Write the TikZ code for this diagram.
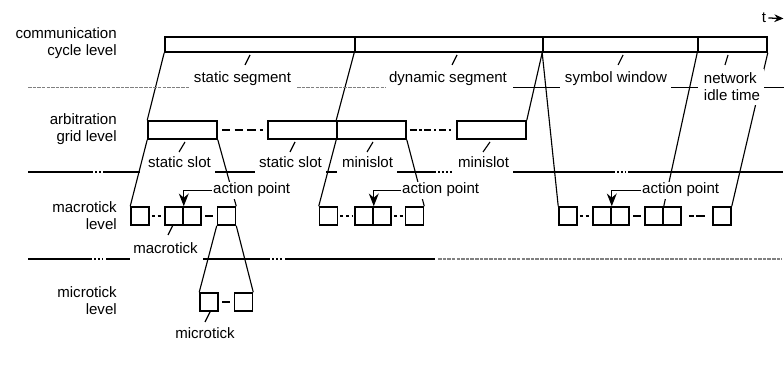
\documentclass[tikz,border=0pt]{standalone}
\usepackage{fontspec}
\setmainfont{Liberation Sans}
\usetikzlibrary{arrows.meta, positioning, calc}

\tikzset{
  seg/.style={draw, line width=1.1pt, inner sep=0pt, minimum height=0.375cm},
  arb/.style={draw, line width=1.1pt, inner sep=0pt, minimum width=1.725cm, minimum height=0.45cm},
  mt/.style={draw, line width=1.1pt, inner sep=0pt, minimum size=0.45cm},
  lbl/.style={inner sep=1pt, anchor=base},
  lvl/.style={align=right, anchor=east, inner sep=0pt},
  link/.style={line width=0.8pt},
  tie/.style={line width=1pt, shorten <=2.5pt, shorten >=2.5pt},
  dots/.style={line width=1pt, dash pattern=on 2.2pt off 1.8pt, shorten <=1.5pt, shorten >=1.5pt},
  sep/.style={line width=1pt},
  sepdots/.style={line width=1pt, dash pattern=on 1.4pt off 1.4pt},
  graysep/.style={line width=1.2pt, gray, dash pattern=on 2.5pt off 0.8pt},
  apx/.style={line width=0.8pt, -{Stealth[length=9pt, width=7pt]}},
}

\begin{document}
\begin{tikzpicture}[x=0.025cm, y=-0.025cm, font=\fontsize{10.7pt}{12.1pt}\selectfont]
  \useasboundingbox (0,0) rectangle (784,367);

  % level names
  \node[lvl] (lvcyc) at (117,43) {communication\\cycle level};
  \node[lvl] (lvarb) at (117,129.5) {arbitration\\grid level};
  \node[lvl] (lvmac) at (117,216) {macrotick\\level};
  \node[lvl] (lvmic) at (117,300.5) {microtick\\level};

  % time axis
  \node[inner sep=0pt] (t) at (764,18) {t};
  \coordinate (tend) at (783.5,18.5);
  \draw[line width=0.9pt, -{Stealth[length=6.5pt, width=5.5pt]}] ([xshift=1.5pt]t.east) -- (tend);

  % communication cycle
  \node[seg, minimum width=4.75cm]  (cyc1) at (260,44.5) {};
  \node[seg, minimum width=4.7cm]   (cyc2) at (449,44.5) {};
  \node[seg, minimum width=3.875cm] (cyc3) at (620.5,44.5) {};
  \node[seg, minimum width=1.725cm] (cyc4) at (732.5,44.5) {};

  % arbitration grid
  \foreach \n/\x in {arb1/182.5, arb2/302.5, arb3/371.5, arb4/491.5}
    \node[arb] (\n) at (\x,130) {};
  \draw[line width=1pt, dash pattern=on 6pt off 3pt, shorten <=3pt, shorten >=3pt] (arb1.east) -- (arb2.west);
  \draw[line width=1pt, dash pattern=on 5pt off 2pt on 1.5pt off 2pt, shorten <=2pt, shorten >=3pt] (arb3.east) -- (arb4.west);

  % macroticks
  \foreach \n/\x in {m1a/140, m1b/174, m1c/192, m1d/226.5,
                     m2a/328.5, m2b/364, m2c/382, m2d/414.5,
                     m3a/568, m3b/602, m3c/620, m3d/654, m3e/672, m3f/722}
    \node[mt] (\n) at (\x,216) {};
  \draw[dots] (m1a.east) -- (m1b.west);
  \draw[tie] (m1c.east) -- (m1d.west);
  \draw[dots] (m2a.east) -- (m2b.west);
  \draw[dots] (m2c.east) -- (m2d.west);
  \draw[dots] (m3a.east) -- (m3b.west);
  \draw[tie] (m3c.east) -- (m3d.west);
  \draw[line width=1pt, dash pattern=on 3.5pt off 1.5pt on 7pt off 10pt, shorten <=5pt, shorten >=5pt] (m3e.east) -- (m3f.west);

  % microticks
  \node[mt] (u1) at (209,302) {};
  \node[mt] (u2) at (243.5,302) {};
  \draw[tie] (u1.east) -- (u2.west);

  % expansion lines
  \draw[link] (cyc1.south west) -- (arb1.north west);
  \draw[link] (cyc2.south west) -- (arb3.north west);
  \draw[link] (cyc3.south west) -- (arb4.north east);
  \draw[link] (cyc3.south west) -- (m3a.north west);
  \draw[link] (cyc4.south west) -- (m3d.north east);
  \draw[link] (cyc4.south east) -- (m3f.north east);
  \draw[link] (arb1.south west) -- (m1a.north west);
  \draw[link] (arb1.south east) -- (m1d.north east);
  \draw[link] (arb3.south west) -- (m2a.north west);
  \draw[link] (arb3.south east) -- (m2d.north east);
  \draw[link] (m1d.south west) -- (u1.north west);
  \draw[link] (m1d.south east) -- (u2.north east);

  % labels
  \node[lbl] (sseg) at (242.5,83) {static segment};
  \node[lbl] (dseg) at (448,83) {dynamic segment};
  \node[lbl] (symw) at (616,83) {symbol window};
  \node[fill=white, align=left, inner sep=3pt] (nit) at (732,87) {network\\idle time};
  \node[lbl] (sslot1) at (179.5,168) {static slot};
  \node[lbl] (sslot2) at (290.5,168) {static slot};
  \node[lbl] (mslot1) at (367.5,168) {minislot};
  \node[lbl] (mslot2) at (483.5,168) {minislot};
  \node[lbl] (mtick) at (165.5,253) {macrotick};
  \node[lbl] (utick) at (205,339) {microtick};
  \node[lbl, anchor=base west, fill=white] (ap1) at (211.5,194) {action point};
  \node[lbl, anchor=base west, fill=white] (ap2) at (400.5,194) {action point};
  \node[lbl, anchor=base west, fill=white] (ap3) at (640.5,194) {action point};

  % pointers
  \foreach \x/\y/\d in {245/65/5, 452/65/5, 618/65/5, 725/65/3, 179/152/6, 290/152/5,
                        367/152/6, 483/152/7, 168/235/5, 205/322/5}
    \draw[link] (\x,\y) -- ++(\d,-10);
  \draw[apx] (ap1.west) -| (m1b.north east);
  \draw[apx] (ap2.west) -| (m2b.north east);
  \draw[apx] (ap3.west) -| (m3b.north east);

  % level separators
  \draw[graysep] (28,87.5) -- (190,87.5) (297,87.5) -- (386,87.5);
  \draw[sep] (513,87.5) -- (560,87.5) (671,87.5) -- (698,87.5) (764,87.5) -- (784,87.5);
  \draw[sep] (28,172) -- (93,172) (103,172) -- (140,172) (215,172) -- (255,172)
             (326,172) -- (337,172) (397,172) -- (436,172) (513,172) -- (615,172) (628,172) -- (783,172);
  \draw[sepdots] (95,172) -- (101,172) (438,172) -- (452,172) (617,172) -- (626,172);
  \draw[sep] (28,259) -- (92,259) (106,259) -- (130,259) (203,259) -- (270,259) (285,259) -- (435,259);
  \draw[sepdots] (94,259) -- (103,259) (272,259) -- (283,259);
  \draw[graysep] (438,259) -- (782,259);
\end{tikzpicture}
\end{document}
